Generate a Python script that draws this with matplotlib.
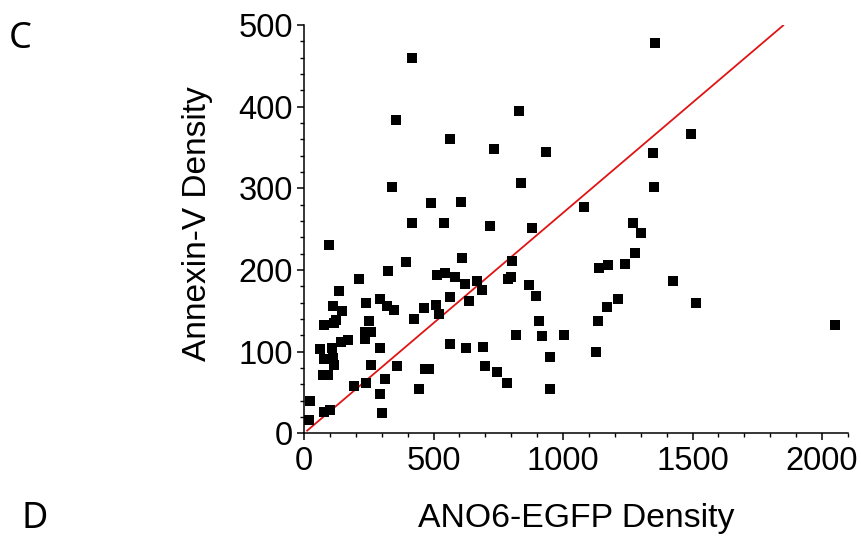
"""
Scatter of Annexin-V density against ANO6-EGFP density (panel C),
with the fitted reference line drawn in red.
"""

import matplotlib
matplotlib.use("Agg")
import matplotlib.pyplot as plt
from matplotlib.ticker import MultipleLocator

# per-cell densities
ano6_density = [
    416, 355, 829, 562, 732, 934, 341, 490, 607, 839,
    1356, 1492, 1349, 1353, 1080, 1269, 1302, 1279, 1139, 1175,
    1239, 1425, 1214, 1169, 1135, 1512, 2050, 1002, 1126, 417,
    540, 718, 879, 96, 394, 611, 323, 802, 211, 513,
    543, 584, 622, 668, 687, 788, 798, 870, 897, 562,
    635, 135, 111, 148, 239, 294, 322, 347, 250, 463,
    508, 520, 425, 78, 115, 123, 909, 237, 259, 234,
    141, 170, 63, 108, 295, 562, 625, 691, 818, 918,
    77, 113, 116, 260, 358, 949, 75, 91, 193, 239,
    311, 466, 482, 698, 745, 785, 444, 951, 293, 301,
    23, 19, 77, 99,
]
annexin_density = [
    460, 384, 395, 360, 348, 344, 302, 282, 283, 306,
    478, 366, 343, 302, 277, 258, 245, 221, 203, 206,
    207, 186, 164, 155, 138, 159, 133, 120, 100, 258,
    258, 254, 251, 231, 210, 215, 199, 211, 189, 194,
    196, 191, 183, 186, 175, 189, 191, 181, 168, 167,
    162, 174, 156, 150, 159, 164, 156, 151, 138, 154,
    157, 146, 140, 133, 135, 139, 138, 124, 124, 115,
    112, 114, 103, 104, 105, 109, 104, 106, 120, 119,
    91, 92, 84, 84, 82, 94, 71, 72, 58, 61,
    66, 79, 79, 83, 75, 61, 54, 54, 48, 25,
    39, 16, 26, 28,
]

# reference line y = slope * x
fit_slope = 0.27
fit_x = [12, 1850]

x_ticks = [0, 500, 1000, 1500, 2000]
y_ticks = [0, 100, 200, 300, 400, 500]


def main():
    plt.rcParams["font.family"] = ["Liberation Sans", "DejaVu Sans"]

    fig = plt.figure(figsize=(8.61, 5.38), dpi=100)
    ax = fig.add_axes([0.3531, 0.1946, 0.6318, 0.759])

    ax.plot(ano6_density, annexin_density, "s", color="black",
            markersize=6.8, markeredgewidth=0, zorder=3)

    fit_y = [fit_slope * v for v in fit_x]
    ax.plot(fit_x, fit_y, color="#e01414", linewidth=1.3, zorder=2)

    ax.set_xlim(0, 2100)
    ax.set_ylim(0, 500)
    ax.set_xticks(x_ticks)
    ax.set_yticks(y_ticks)
    ax.xaxis.set_minor_locator(MultipleLocator(100))
    ax.yaxis.set_minor_locator(MultipleLocator(20))

    for side in ("top", "right"):
        ax.spines[side].set_visible(False)
    for side in ("left", "bottom"):
        ax.spines[side].set_linewidth(1.1)

    ax.tick_params(which="major", direction="out", length=5, width=1.1,
                   labelsize=23.5, pad=3)
    ax.tick_params(which="minor", direction="out", length=3, width=1.0)
    ax.tick_params(axis="x", which="major", pad=4)

    ax.set_xlabel("ANO6-EGFP Density", fontsize=24.3, labelpad=19)
    ax.set_ylabel("Annexin-V Density", fontsize=24)
    ax.yaxis.set_label_coords(-0.167, 0.5126)

    # panel letters
    letter_font = ["Noto Sans", "DejaVu Sans"]
    fig.text(20.5 / 861, 1 - 39 / 538, "C", size=26, family=letter_font,
             ha="center", va="center")
    fig.text(34.5 / 861, 1 - 519 / 538, "D", size=26, family=letter_font,
             ha="center", va="center")

    fig.savefig("out.png", dpi=100)
    plt.close(fig)


if __name__ == "__main__":
    main()
